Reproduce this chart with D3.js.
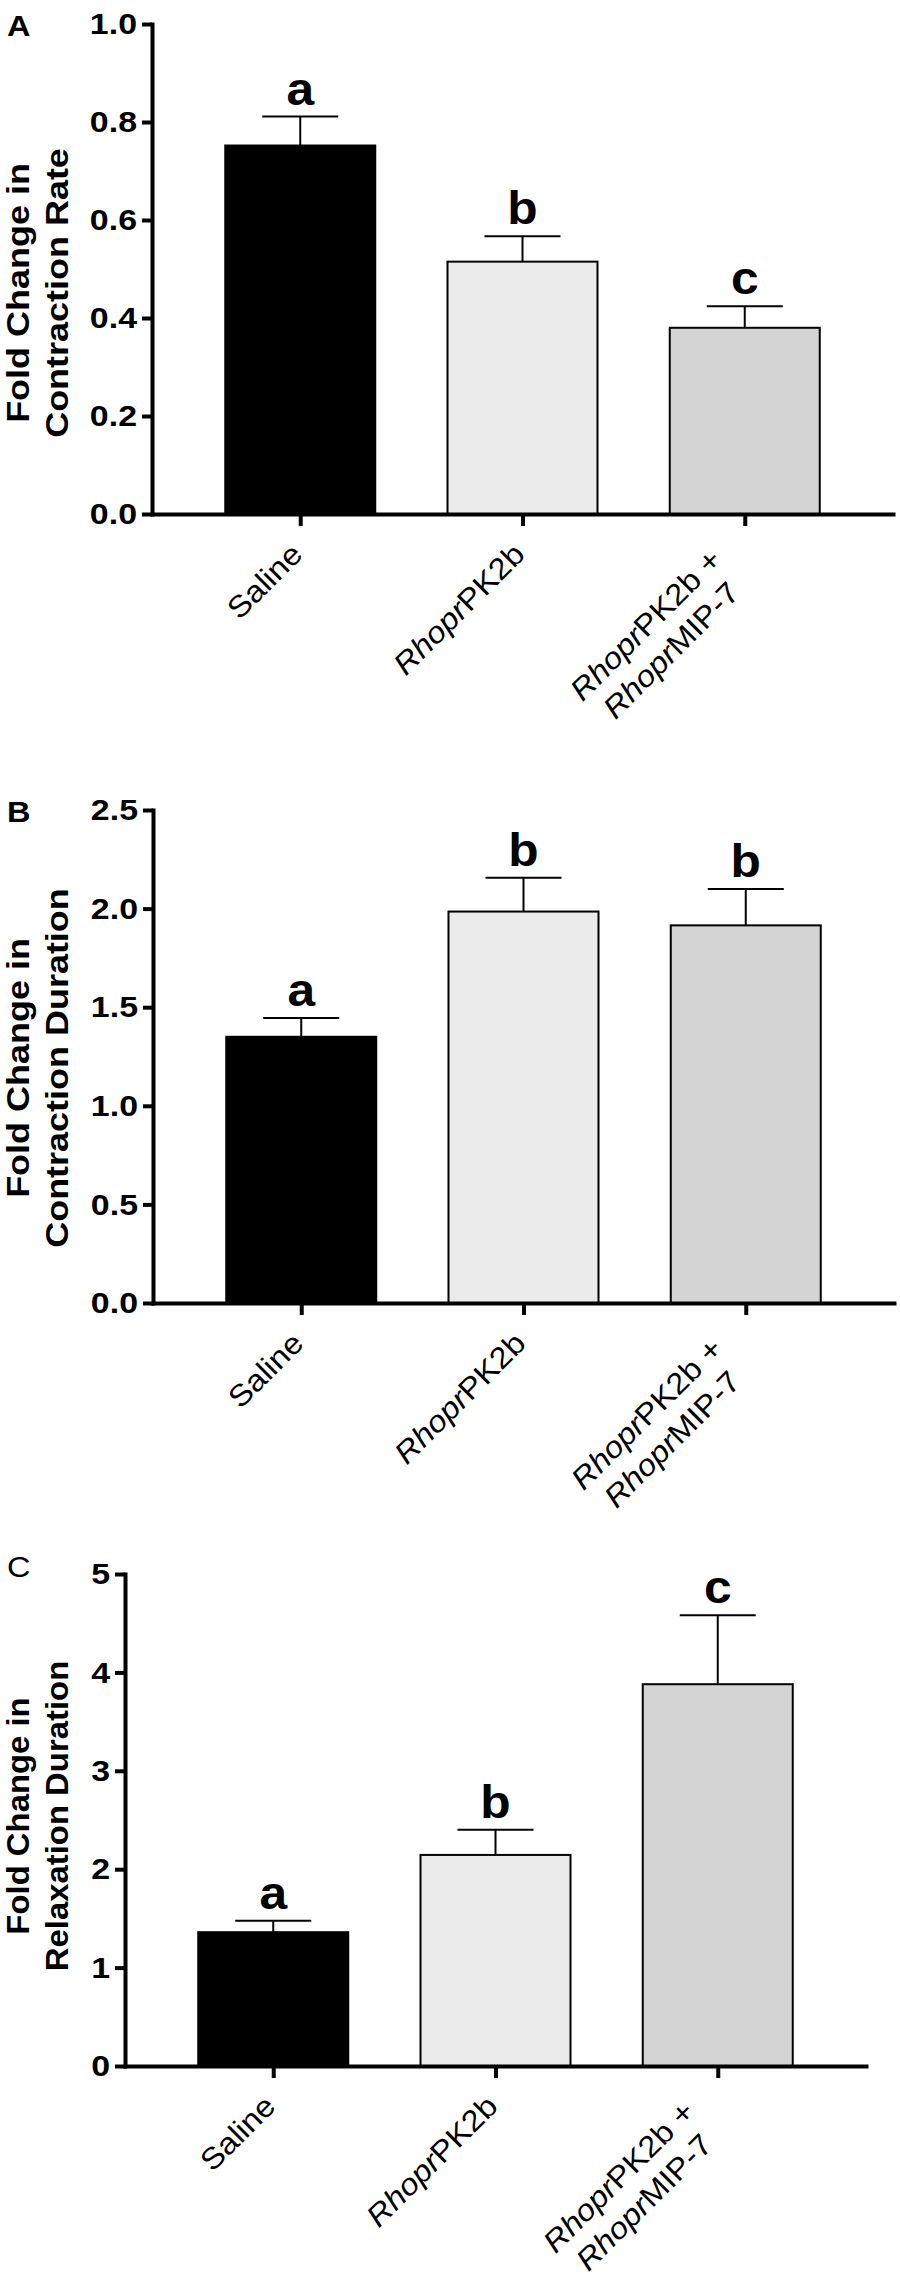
<!DOCTYPE html>
<html>
<head>
<meta charset="utf-8">
<script src="https://cdn.jsdelivr.net/npm/d3@7"></script>
<style>
body { margin: 0; background: #fff; }
svg { display: block; }
</style>
</head>
<body>
<svg id="fig" width="900" height="2282"></svg>
<script>
var groups = ["Saline", "RhoprPK2b", "RhoprPK2b + RhoprMIP-7"];
// each label line is a list of [text, italic] pieces
var groupLabels = [
	[[["Saline", false]]],
	[[["Rhopr", true], ["PK2b", false]]],
	[[["Rhopr", true], ["PK2b +", false]], [["Rhopr", true], ["MIP-7", false]]]
];
var barFills = ["#000000", "#ebebeb", "#d4d4d4"];

var rateMean = [0.752, 0.515, 0.380];
var rateSem = [0.059, 0.052, 0.044];
var rateLetters = ["a", "b", "c"];
var rateTicks = [0, 0.2, 0.4, 0.6, 0.8, 1.0];

var contrMean = [1.35, 1.985, 1.915];
var contrSem = [0.095, 0.172, 0.185];
var contrLetters = ["a", "b", "b"];
var contrTicks = [0, 0.5, 1.0, 1.5, 2.0, 2.5];

var relaxMean = [1.36, 2.145, 3.88];
var relaxSem = [0.115, 0.255, 0.70];
var relaxLetters = ["a", "b", "c"];
var relaxTicks = [0, 1, 2, 3, 4, 5];

var font = "'Liberation Sans', Arial, Helvetica, sans-serif";
var svg = d3.select("#fig");

// the figure's face is wider than Arial, so stretch each text along its baseline
function widen(sel, k) {
	sel.each(function() {
		var len = this.getComputedTextLength();
		d3.select(this).attr("textLength", len * k).attr("lengthAdjust", "spacingAndGlyphs");
	});
}

function drawPanel(p) {
	var w = 741;
	var h = p.bottom - p.top;
	var g = svg.append("g").attr("transform", "translate(" + p.left + "," + p.top + ")");

	var x = d3.scalePoint().domain(groups).range([0, w]).padding(0.667);
	var y = d3.scaleLinear().domain([0, p.ticks[p.ticks.length - 1]]).range([h, 0]);
	var barW = 150;

	// panel letter
	svg.append("text")
		.attr("x", 7).attr("y", p.labelY)
		.attr("font-family", font).attr("font-size", 29)
		.attr("font-weight", p.labelBold ? "bold" : "normal")
		.text(p.label)
		.call(widen, 1.12);

	// y title, two lines
	var tg = svg.append("g")
		.attr("transform", "translate(29," + p.titleY + ") rotate(-90)");
	p.title.forEach(function(line, i) {
		tg.append("text")
			.attr("x", 0).attr("y", i * 39)
			.attr("text-anchor", "middle")
			.attr("font-family", font).attr("font-size", 31).attr("font-weight", "bold")
			.text(line)
			.call(widen, p.titleK);
	});

	// bars
	g.selectAll(".bar").data(p.mean).enter().append("rect")
		.attr("class", "bar")
		.attr("x", function(d, i) { return x(groups[i]) - barW / 2; })
		.attr("y", function(d) { return y(d); })
		.attr("width", barW)
		.attr("height", function(d) { return h - y(d); })
		.attr("fill", function(d, i) { return barFills[i]; })
		.attr("stroke", "#000").attr("stroke-width", 2);

	// upper error bars and significance letters
	p.mean.forEach(function(m, i) {
		var cx = x(groups[i]);
		var top = y(m + p.sem[i]);
		g.append("line").attr("x1", cx).attr("x2", cx).attr("y1", y(m)).attr("y2", top)
			.attr("stroke", "#000").attr("stroke-width", 2);
		g.append("line").attr("x1", cx - 38).attr("x2", cx + 38).attr("y1", top).attr("y2", top)
			.attr("stroke", "#000").attr("stroke-width", 2);
		g.append("text")
			.attr("x", cx).attr("y", top - 12)
			.attr("text-anchor", "middle")
			.attr("font-family", font).attr("font-size", 46).attr("font-weight", "bold")
			.text(p.letters[i])
			.call(widen, 1.08);
	});

	// axes
	var yAxis = g.append("g")
		.call(d3.axisLeft(y).tickValues(p.ticks).tickFormat(p.fmt)
			.tickSize(10).tickPadding(5).tickSizeOuter(0));
	var xAxis = g.append("g").attr("transform", "translate(0," + h + ")")
		.call(d3.axisBottom(x).tickSize(12).tickSizeOuter(0).tickFormat(""));

	[yAxis, xAxis].forEach(function(a) {
		a.select(".domain").attr("stroke-width", 4).attr("stroke-linecap", "square");
		a.selectAll(".tick line").attr("stroke-width", 4);
	});
	yAxis.selectAll(".tick text")
		.attr("font-family", font).attr("font-size", 30).attr("font-weight", "bold")
		.attr("fill", "#000")
		.call(widen, 1.13);

	// rotated category labels
	groups.forEach(function(grp, i) {
		var lg = g.append("g")
			.attr("transform", "translate(" + (x(grp) + 4) + "," + (h + 42) + ") rotate(-45)");
		var lines = groupLabels[i];
		var texts = lines.map(function(line, j) {
			var t = lg.append("text")
				.attr("y", lines.length == 1 ? 0 : j * 36 - 14)
				.attr("font-family", font).attr("font-size", 30);
			line.forEach(function(piece) {
				t.append("tspan")
					.attr("font-style", piece[1] ? "italic" : "normal")
					.text(piece[0]);
			});
			return t;
		});
		var lens = texts.map(function(t) { return t.node().getComputedTextLength() * 1.1; });
		texts.forEach(function(t) { t.call(widen, 1.1); });
		if (texts.length == 1) {
			texts[0].attr("text-anchor", "end").attr("x", 0);
		} else {
			var maxLen = d3.max(lens);
			texts.forEach(function(t) {
				t.attr("text-anchor", "middle").attr("x", -(22 + maxLen / 2));
			});
		}
	});
}

drawPanel({
	label: "A", labelY: 36, labelBold: true,
	left: 152, top: 24, bottom: 514, titleY: 293, titleK: 1.16,
	mean: rateMean, sem: rateSem, letters: rateLetters, ticks: rateTicks,
	fmt: d3.format(".1f"),
	title: ["Fold Change in", "Contraction Rate"]
});

drawPanel({
	label: "B", labelY: 822, labelBold: true,
	left: 153, top: 810, bottom: 1303, titleY: 1068, titleK: 1.16,
	mean: contrMean, sem: contrSem, letters: contrLetters, ticks: contrTicks,
	fmt: d3.format(".1f"),
	title: ["Fold Change in", "Contraction Duration"]
});

drawPanel({
	label: "C", labelY: 1577, labelBold: false,
	left: 125, top: 1574, bottom: 2066, titleY: 1816, titleK: 1.06,
	mean: relaxMean, sem: relaxSem, letters: relaxLetters, ticks: relaxTicks,
	fmt: d3.format("d"),
	title: ["Fold Change in", "Relaxation Duration"]
});
</script>
</body>
</html>
